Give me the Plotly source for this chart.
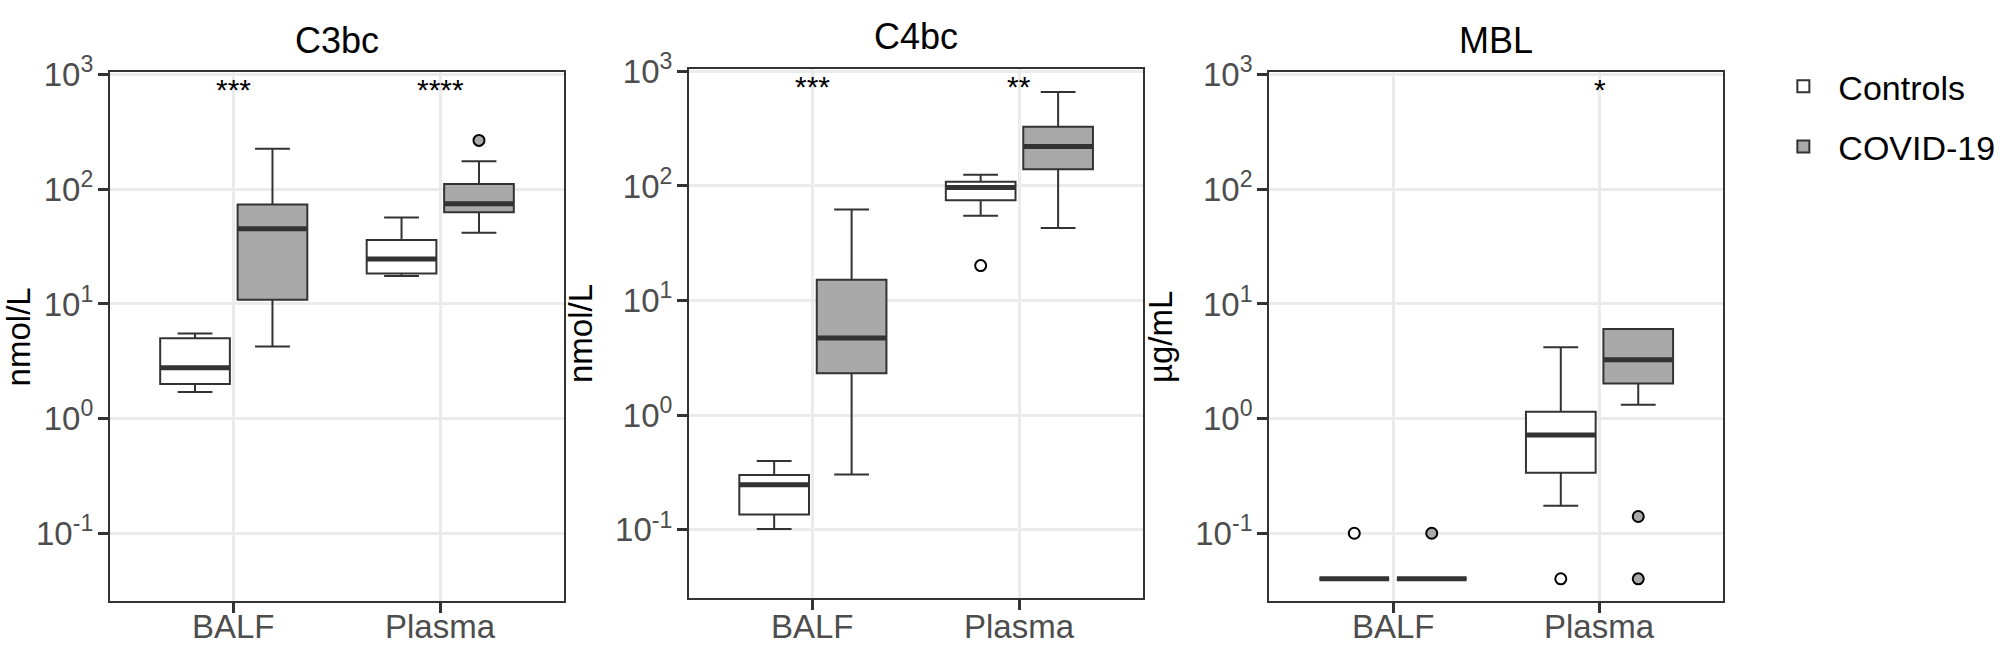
import plotly.graph_objects as go

groups = ["BALF", "Plasma"]
panel_titles = ["C3bc", "C4bc", "MBL"]
y_titles = ["nmol/L", "nmol/L", "µg/mL"]
stars = [["***", "****"], ["***", "**"], ["", "*"]]

# C3bc  (five-number summaries, BALF then Plasma)
c3_ctrl_low = [1.71, 17.5]
c3_ctrl_q1 = [2.0, 18.4]
c3_ctrl_med = [2.78, 24.7]
c3_ctrl_q3 = [5.02, 36.2]
c3_ctrl_high = [5.53, 56.7]
c3_ctrl_out_x = []
c3_ctrl_out_y = []
c3_cov_low = [4.25, 41.9]
c3_cov_q1 = [10.9, 63.0]
c3_cov_med = [45.3, 75.0]
c3_cov_q3 = [73.8, 111.0]
c3_cov_high = [226.0, 176.0]
c3_cov_out_x = ["Plasma"]
c3_cov_out_y = [267.0]

# C4bc
c4_ctrl_low = [0.102, 55.0]
c4_ctrl_q1 = [0.136, 75.0]
c4_ctrl_med = [0.247, 96.8]
c4_ctrl_q3 = [0.301, 109.0]
c4_ctrl_high = [0.399, 125.0]
c4_ctrl_out_x = ["Plasma"]
c4_ctrl_out_y = [20.2]
c4_cov_low = [0.304, 43.0]
c4_cov_q1 = [2.32, 140.0]
c4_cov_med = [4.72, 221.0]
c4_cov_q3 = [15.2, 329.0]
c4_cov_high = [62.4, 659.0]
c4_cov_out_x = []
c4_cov_out_y = []

# MBL
mbl_ctrl_low = [0.04, 0.174]
mbl_ctrl_q1 = [0.04, 0.337]
mbl_ctrl_med = [0.04, 0.72]
mbl_ctrl_q3 = [0.04, 1.146]
mbl_ctrl_high = [0.04, 4.19]
mbl_ctrl_out_x = ["BALF", "Plasma"]
mbl_ctrl_out_y = [0.1, 0.04]
mbl_cov_low = [0.04, 1.32]
mbl_cov_q1 = [0.04, 2.02]
mbl_cov_med = [0.04, 3.26]
mbl_cov_q3 = [0.04, 6.04]
mbl_cov_high = [0.04, 6.04]
mbl_cov_out_x = ["BALF", "Plasma", "Plasma"]
mbl_cov_out_y = [0.1, 0.14, 0.04]

panels = [
    {"ctrl": (c3_ctrl_low, c3_ctrl_q1, c3_ctrl_med, c3_ctrl_q3, c3_ctrl_high, c3_ctrl_out_x, c3_ctrl_out_y),
     "cov": (c3_cov_low, c3_cov_q1, c3_cov_med, c3_cov_q3, c3_cov_high, c3_cov_out_x, c3_cov_out_y)},
    {"ctrl": (c4_ctrl_low, c4_ctrl_q1, c4_ctrl_med, c4_ctrl_q3, c4_ctrl_high, c4_ctrl_out_x, c4_ctrl_out_y),
     "cov": (c4_cov_low, c4_cov_q1, c4_cov_med, c4_cov_q3, c4_cov_high, c4_cov_out_x, c4_cov_out_y)},
    {"ctrl": (mbl_ctrl_low, mbl_ctrl_q1, mbl_ctrl_med, mbl_ctrl_q3, mbl_ctrl_high, mbl_ctrl_out_x, mbl_ctrl_out_y),
     "cov": (mbl_cov_low, mbl_cov_q1, mbl_cov_med, mbl_cov_q3, mbl_cov_high, mbl_cov_out_x, mbl_cov_out_y)},
]

W, H = 2008, 645
FONT = "Arial, Liberation Sans, sans-serif"
DARK = "#333333"
fills = {"ctrl": "white", "cov": "#a9a9a9"}
names = {"ctrl": "Controls", "cov": "COVID-19"}

# panel pixel boxes (left, right, top, bottom)
px_boxes = [(107, 562, 53, 600), (687, 1142, 49.5, 596.5), (1268, 1723, 53, 600)]

fig = go.Figure()

for i, p in enumerate(panels):
    xa = "x" if i == 0 else f"x{i + 1}"
    ya = "y" if i == 0 else f"y{i + 1}"
    for key in ["ctrl", "cov"]:
        low, q1, med, q3, high, ox, oy = p[key]
        fig.add_trace(go.Box(
            x=groups, q1=q1, median=med, q3=q3, lowerfence=low, upperfence=high,
            orientation="v", name=names[key], legendgroup=key, showlegend=(i == 0),
            offsetgroup=key, fillcolor=fills[key], line=dict(color=DARK, width=2),
            boxpoints=False, hoverinfo="skip", xaxis=xa, yaxis=ya))
        # thicker median line, as in ggplot
        fig.add_trace(go.Box(
            x=groups, q1=med, median=med, q3=med, lowerfence=med, upperfence=med,
            orientation="v", name=names[key], legendgroup=key, showlegend=False,
            offsetgroup=key, fillcolor=fills[key], line=dict(color=DARK, width=5),
            boxpoints=False, hoverinfo="skip", xaxis=xa, yaxis=ya))
        if ox:
            fig.add_trace(go.Box(
                x=ox, y=oy, name=names[key], legendgroup=key, showlegend=False,
                offsetgroup=key, boxpoints="all", jitter=0, pointpos=0,
                fillcolor="rgba(0,0,0,0)", line=dict(color="rgba(0,0,0,0)", width=0),
                marker=dict(symbol="circle", size=11, color=fills[key],
                            line=dict(color="black", width=2)),
                hoverinfo="skip", xaxis=xa, yaxis=ya))

axis_common = dict(
    showline=True, mirror=True, linecolor=DARK, linewidth=2,
    ticks="outside", ticklen=10, tickwidth=3, tickcolor=DARK,
    showgrid=True, gridcolor="#ebebeb", gridwidth=3, zeroline=False,
    tickfont=dict(family=FONT, size=33, color="#4d4d4d"),
)

layout = dict(
    width=W, height=H, margin=dict(l=0, r=0, t=0, b=0),
    paper_bgcolor="white", plot_bgcolor="white",
    boxmode="group", boxgap=0.25, boxgroupgap=0.1,
    font=dict(family=FONT, color="black"),
    legend=dict(x=1768 / W, y=1 - 38 / H, xanchor="left", yanchor="top",
                itemwidth=60,
                font=dict(family=FONT, size=34, color="black"),
                tracegroupgap=13, bgcolor="rgba(0,0,0,0)"),
)

annotations = []
for i, (l, r, t, b) in enumerate(px_boxes):
    sfx = "" if i == 0 else str(i + 1)
    layout["xaxis" + sfx] = dict(
        axis_common, domain=[l / W, r / W], anchor="y" + sfx,
        type="category", categoryorder="array", categoryarray=groups,
        range=[-0.6, 1.6], showticklabels=False)
    layout["yaxis" + sfx] = dict(
        axis_common, domain=[1 - b / H, 1 - t / H], anchor="x" + sfx,
        type="log", range=[-1.595, 3.021],
        tickvals=[0.1, 1, 10, 100, 1000],
        ticktext=["10<sup>-1</sup>", "10<sup>0</sup>", "10<sup>1</sup>",
                  "10<sup>2</sup>", "10<sup>3</sup>"],
        ticklabelstandoff=-2,
        title=dict(text=y_titles[i], standoff=13,
                   font=dict(family=FONT, size=33, color="black")))
    annotations.append(dict(
        text=panel_titles[i], xref="paper", yref="paper",
        x=(l + r) / 2 / W, y=1 - (t - 33) / H, xanchor="center", yanchor="middle",
        showarrow=False, font=dict(family=FONT, size=36, color="black")))
    # category labels under the x axis
    for g in groups:
        annotations.append(dict(
            text=g, xref="x" + sfx, yref="paper", x=g, y=0,
            xanchor="center", yanchor="bottom", yshift=-2, showarrow=False,
            font=dict(family=FONT, size=33, color="#4d4d4d")))
    for g, s in zip(groups, stars[i]):
        if s:
            annotations.append(dict(
                text=s, xref="x" + sfx, yref="y" + sfx, x=g, y=2.87,
                xanchor="center", yanchor="middle", showarrow=False,
                font=dict(family=FONT, size=30, color="black")))

layout["annotations"] = annotations
fig.update_layout(**layout)

# drop the default page margin so the figure sits at the window's corner
fig.write_html("out.html", config={"displayModeBar": False},
               post_script="document.body.style.margin='0';"
                           "document.body.style.overflow='hidden';")
